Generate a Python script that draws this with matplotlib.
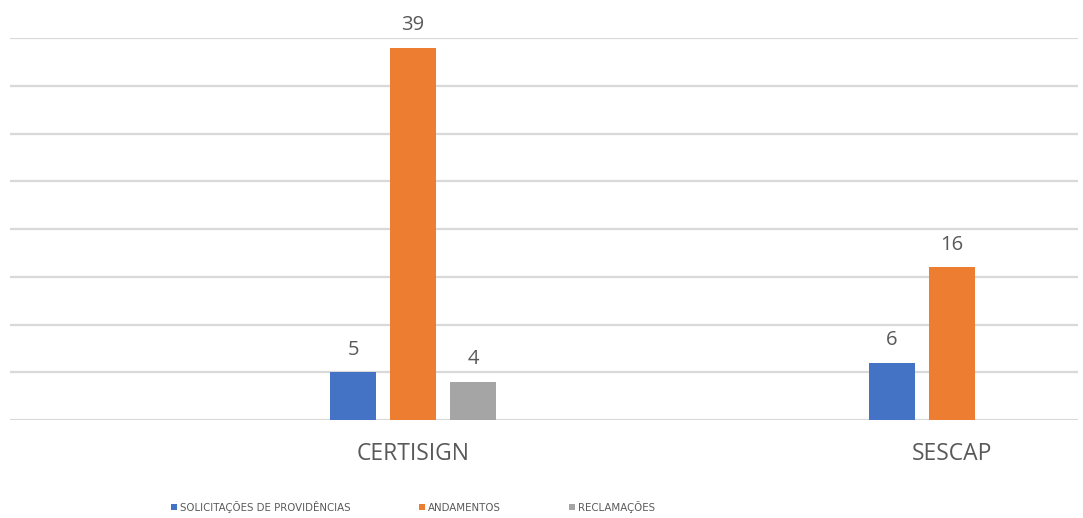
import numpy as np
import matplotlib
matplotlib.use("Agg")
import matplotlib.pyplot as plt
from matplotlib.patches import Patch

plt.rcParams['font.family'] = ['Open Sans', 'DejaVu Sans']

# data
categories = ["CERTISIGN", "SESCAP"]
series_names = ["SOLICITAÇÕES DE PROVIDÊNCIAS", "ANDAMENTOS", "RECLAMAÇÕES"]
solicitacoes = [5, 6]
andamentos = [39, 16]
reclamacoes = [4, 0]
y_ticks = [0, 5, 10, 15, 20, 25, 30, 35, 40]

COLORS = ["#4472C4", "#ED7D31", "#A5A5A5"]
TEXT = "#595959"
GRID = "#D9D9D9"

fig = plt.figure(figsize=(10.83, 5.18), dpi=100)
ax = fig.add_axes([10 / 1083, 98 / 518, 1068 / 1083, 382 / 518])

x = np.arange(len(categories))
width = 0.087
step = 0.1113

for k, (vals, color) in enumerate(zip([solicitacoes, andamentos, reclamacoes], COLORS)):
    bars = ax.bar(x + (k - 1) * step, vals, width, color=color, zorder=3)
    labels = [str(v) if v != 0 else "" for v in vals]
    ax.bar_label(bars, labels=labels, padding=9, fontsize=14.5, color=TEXT)

ax.set_xlim(-0.7477, 1.2338)
ax.set_ylim(0, 40)
ax.set_yticks(y_ticks)
ax.yaxis.grid(True, color=GRID, linewidth=1.6, zorder=0)
ax.tick_params(axis="y", left=False, labelleft=False)
ax.set_xticks(x)
ax.set_xticklabels(categories, fontsize=16.5, color=TEXT)
ax.tick_params(axis="x", length=0, pad=16)
for s in ax.spines.values():
    s.set_visible(False)

handles = [Patch(facecolor=c, edgecolor="none") for c in COLORS]
leg = fig.legend(handles, series_names, loc="center", ncol=3,
                 bbox_to_anchor=(413 / 1083, 1 - 507 / 518), frameon=False,
                 prop={"family": "DejaVu Sans", "stretch": "condensed", "size": 8.2},
                 handlelength=0.55, handleheight=0.55,
                 handletextpad=0.25, columnspacing=6, labelcolor=TEXT)

fig.savefig("out.png", dpi=100)
